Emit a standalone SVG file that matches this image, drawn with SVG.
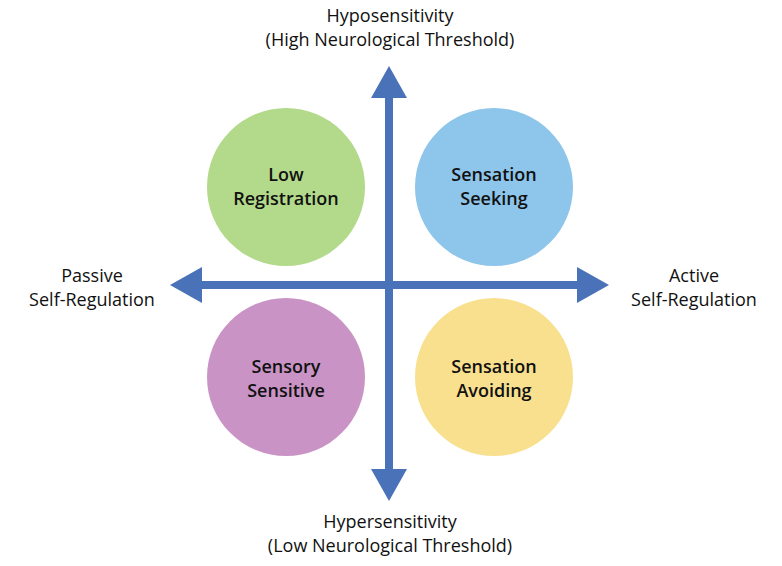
<svg xmlns="http://www.w3.org/2000/svg" width="782" height="566" viewBox="0 0 782 566">
<style>
text{font-family:"Open Sans","Liberation Sans",sans-serif;font-size:18px;fill:#111;text-anchor:middle}
.n{font-weight:600}
.ax{stroke:#4a72b8;stroke-width:8;fill:none}
.ah{fill:#4a72b8}
</style>
<rect width="782" height="566" fill="#fff"/>
<g id="n1"><circle cx="286" cy="187" r="79" fill="#b3d98a"/><text class="n" x="286" y="181">Low</text><text class="n" x="286" y="205">Registration</text></g>
<g id="n2"><circle cx="494" cy="187" r="79" fill="#8ec5ea"/><text class="n" x="494" y="181">Sensation</text><text class="n" x="494" y="205">Seeking</text></g>
<g id="n3"><circle cx="286" cy="377" r="79" fill="#c994c5"/><text class="n" x="286" y="373">Sensory</text><text class="n" x="286" y="397">Sensitive</text></g>
<g id="n4"><circle cx="494" cy="377" r="79" fill="#f9e08f"/><text class="n" x="494" y="373">Sensation</text><text class="n" x="494" y="397">Avoiding</text></g>
<g id="connectors">
<line class="ax" x1="389" y1="92" x2="389" y2="475"/>
<polygon class="ah" points="389,66 371,98 407,98"/>
<polygon class="ah" points="389,501 371,469 407,469"/>
<line class="ax" x1="195" y1="285" x2="583" y2="285"/>
<polygon class="ah" points="170,285 202,267 202,303"/>
<polygon class="ah" points="609,285 577,267 577,303"/>
</g>
<g id="labels">
<text x="390" y="22">Hyposensitivity</text><text x="390" y="46">(High Neurological Threshold)</text>
<text x="390" y="528">Hypersensitivity</text><text x="390" y="552">(Low Neurological Threshold)</text>
<text x="92" y="282">Passive</text><text x="92" y="306">Self-Regulation</text>
<text x="694" y="282">Active</text><text x="694" y="306">Self-Regulation</text>
</g>
</svg>
